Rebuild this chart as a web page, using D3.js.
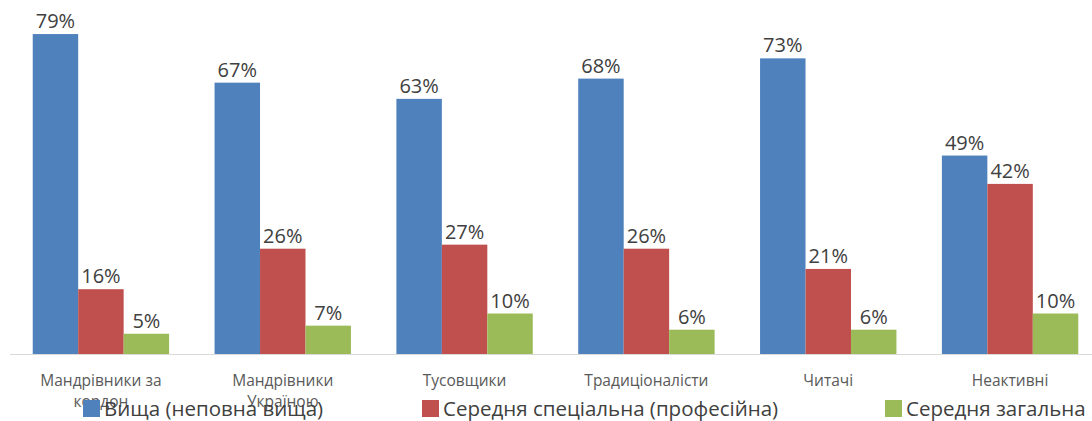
<!DOCTYPE html>
<html>
<head>
<meta charset="utf-8">
<script src="https://cdn.jsdelivr.net/npm/d3@7"></script>
<style>
  html, body { margin: 0; padding: 0; background: #fff; }
  svg { display: block; }
</style>
</head>
<body>
<svg id="chart" width="1092" height="421"></svg>
<script>
// Education level of audience segments (%)
const categories = [
  ["Мандрівники за", "кордон"],
  ["Мандрівники", "Україною"],
  ["Тусовщики"],
  ["Традиціоналісти"],
  ["Читачі"],
  ["Неактивні"]
];
const seriesNames = ["Вища (неповна вища)", "Середня спеціальна (професійна)", "Середня загальна"];
const higher    = [79, 67, 63, 68, 73, 49];
const vocational = [16, 26, 27, 26, 21, 42];
const secondary = [5, 7, 10, 6, 6, 10];
const colors = ["#4F81BD", "#C0504D", "#9BBB59"];

const series = [higher, vocational, secondary];
const catKeys = categories.map(c => c.join(" "));
const font = "Open Sans, Noto Sans, sans-serif";

const svg = d3.select("#chart");
const baseY = 354;

const x = d3.scaleBand()
  .domain(catKeys)
  .range([10, 1101])
  .paddingInner(0.25)
  .paddingOuter(0.125);

const xInner = d3.scaleBand()
  .domain(d3.range(series.length))
  .range([0, x.bandwidth()]);

const y = d3.scaleLinear()
  .domain([0, 80])
  .range([baseY, 30]);

// category axis line
svg.append("line")
  .attr("x1", 10).attr("x2", 1092)
  .attr("y1", baseY + 0.5).attr("y2", baseY + 0.5)
  .attr("stroke", "#D9D9D9").attr("stroke-width", 1);

// bars and value labels
const groups = svg.selectAll("g.group")
  .data(catKeys)
  .join("g")
  .attr("class", "group")
  .attr("transform", d => `translate(${x(d)},0)`);

series.forEach((vals, si) => {
  groups.append("rect")
    .attr("x", xInner(si))
    .attr("width", xInner.bandwidth())
    .attr("y", (d, i) => y(vals[i]))
    .attr("height", (d, i) => baseY - y(vals[i]))
    .attr("fill", colors[si]);

  groups.append("text")
    .attr("x", xInner(si) + xInner.bandwidth() / 2)
    .attr("y", (d, i) => y(vals[i]) - 6)
    .attr("text-anchor", "middle")
    .attr("font-family", font)
    .attr("font-size", 20)
    .attr("fill", "#404040")
    .text((d, i) => vals[i] + "%");
});

// category labels (wrapped)
const catLabels = svg.append("g");
categories.forEach((lines, i) => {
  const cx = x(catKeys[i]) + x.bandwidth() / 2;
  const t = catLabels.append("text")
    .attr("x", cx)
    .attr("y", 386)
    .attr("text-anchor", "middle")
    .attr("font-family", font)
    .attr("font-size", 15.5)
    .attr("fill", "#595959");
  lines.forEach((ln, j) => {
    t.append("tspan")
      .attr("x", cx)
      .attr("dy", j === 0 ? 0 : 21)
      .text(ln);
  });
});

// legend
const legendX = [83, 422, 885];
const legend = svg.append("g");
seriesNames.forEach((name, i) => {
  legend.append("rect")
    .attr("x", legendX[i]).attr("y", 400)
    .attr("width", 17).attr("height", 17)
    .attr("fill", colors[i]);
  legend.append("text")
    .attr("x", legendX[i] + 21)
    .attr("y", 416)
    .attr("font-family", font)
    .attr("font-size", 20.5)
    .attr("fill", "#404040")
    .text(name);
});
</script>
</body>
</html>
